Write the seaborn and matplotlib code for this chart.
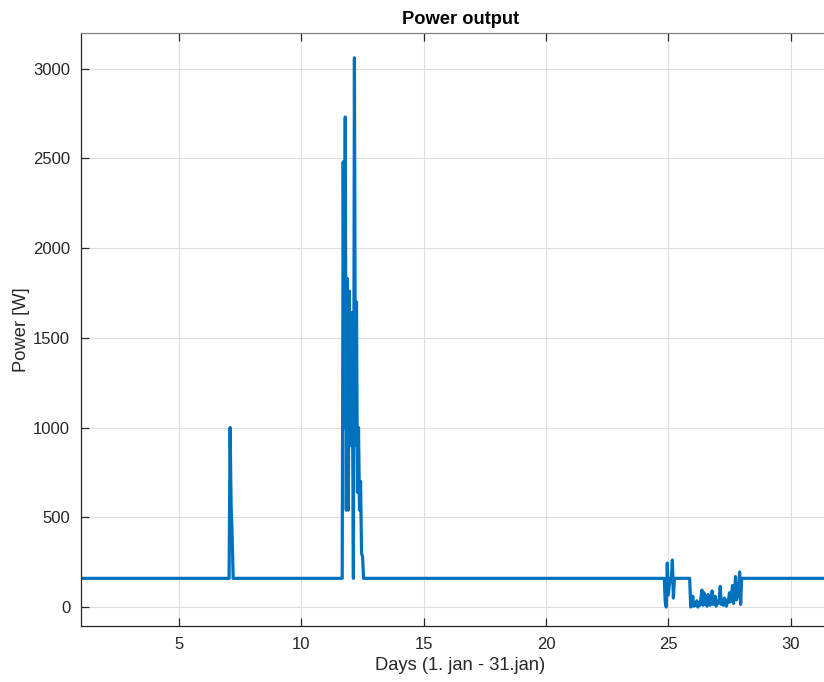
import numpy as np
import pandas as pd
import matplotlib
matplotlib.use("Agg")
import matplotlib.pyplot as plt
import seaborn as sns

# Hourly power output for January (hour 0 = 1 Jan 00:00)
n_hours = 744
baseline_w = 160

# Short burst on day 7
d7_start = 146
d7_values = [1000, 560, 400]

# Main production period around day 12
d12_start = 257
d12_values = [2480, 1000, 2730, 540, 1830, 540, 1760, 900, 1640, 1230,
              160, 3060, 900, 1700, 640, 1000, 540, 700, 300, 280]

# Disturbance just before day 25
d25_start = 573
d25_values = [30, 0, 245, 67, 120, 160, 160, 262, 50]

# Low-output stretch, days 26-28
d26_start = 598
d26_values = [0, 10, 60, 5, 20, 10, 35, 0, 25, 10, 50, 95, 10, 80, 15, 30,
              5, 70, 20, 10, 40, 90, 15, 25, 60, 5, 30, 20, 50, 115, 15, 35,
              10, 50, 20, 5, 40, 25, 80, 30, 60, 120, 20, 70, 170, 40, 130,
              60, 195, 15]

x_ticks = [5, 10, 15, 20, 25, 30]
y_ticks = [0, 500, 1000, 1500, 2000, 2500, 3000]

power = np.full(n_hours + 1, baseline_w, dtype=float)
for start, vals in [(d7_start, d7_values), (d12_start, d12_values),
                    (d25_start, d25_values), (d26_start, d26_values)]:
    power[start:start + len(vals)] = vals

df = pd.DataFrame({"day": 1 + np.arange(n_hours + 1) / 24.0, "power": power})

sns.set_theme(style="whitegrid")
plt.rcParams["font.family"] = ["Liberation Sans", "DejaVu Sans"]

fig = plt.figure(figsize=(8.24, 6.82), dpi=100)
ax = fig.add_axes([0.0987, 0.0825, 0.9201, 0.8696])

sns.lineplot(data=df, x="day", y="power", ax=ax, color="#0072BD",
             linewidth=2.3, estimator=None)

ax.set_xlim(1, 32)
ax.set_ylim(-104, 3200)
ax.set_xticks(x_ticks)
ax.set_yticks(y_ticks)

ax.set_facecolor("white")
ax.grid(True, color="#dedede", linewidth=0.8)
for side in ["left", "bottom", "top", "right"]:
    ax.spines[side].set_visible(True)
    ax.spines[side].set_color("#262626")
    ax.spines[side].set_linewidth(0.9)
ax.spines["top"].set_color("#808080")

ax.tick_params(axis="both", which="major", direction="in", length=6,
               width=0.9, color="#262626", labelcolor="#262626",
               labelsize=12, top=True, right=True, bottom=True, left=True,
               pad=8)

ax.set_xlabel("Days (1. jan - 31.jan)", fontsize=13.2, color="#262626",
              labelpad=4)
ax.set_ylabel("Power [W]", fontsize=13.2, color="#262626", labelpad=2)
ax.set_title("Power output", fontsize=13.2, fontweight="bold",
             color="black", pad=6)

fig.savefig("out.png", dpi=100, facecolor="white")
